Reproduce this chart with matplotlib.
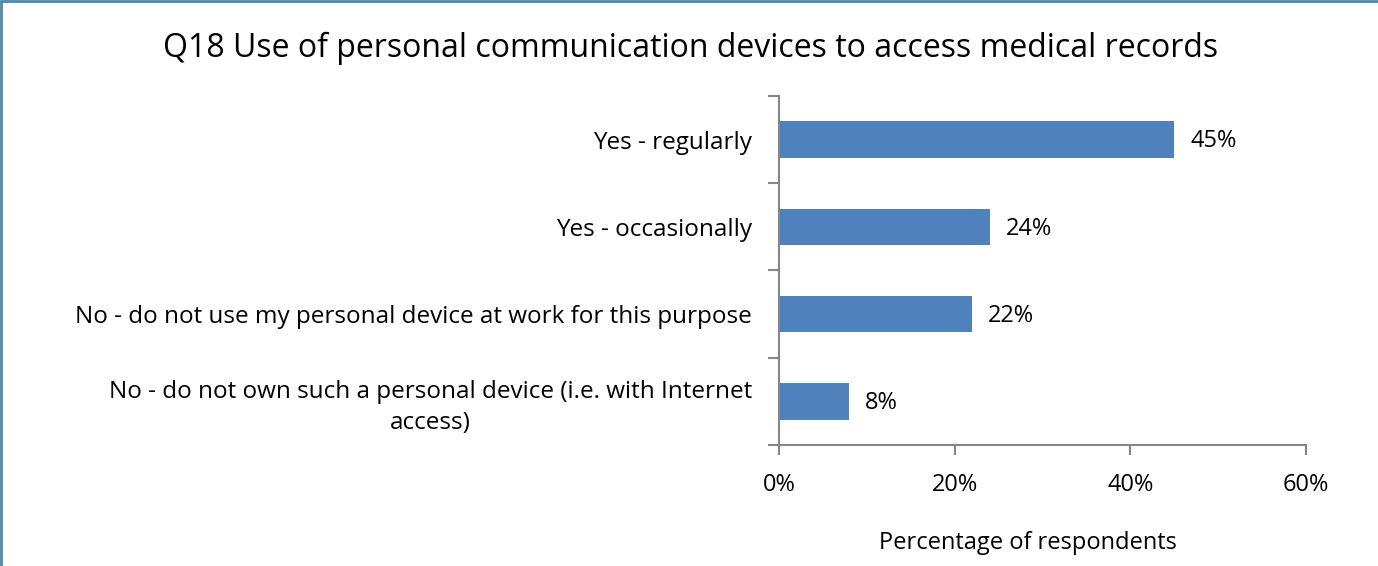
import matplotlib.pyplot as plt
from matplotlib.patches import Rectangle

plt.rcParams['font.family'] = ['Open Sans', 'DejaVu Sans']

categories = [
    "Yes - regularly",
    "Yes - occasionally",
    "No - do not use my personal device at work for this purpose",
    "No - do not own such a personal device (i.e. with Internet\naccess)",
]
percent = [45, 24, 22, 8]
x_ticks = [0, 20, 40, 60]

fig = plt.figure(figsize=(13.78, 5.66), dpi=100)
ax = fig.add_axes([0.5653, 0.2138, 0.3825, 0.6166])

# outer frame around the chart area
fig.patches.append(Rectangle((0.001, -0.01), 1.2, 1.0075, transform=fig.transFigure,
                             fill=False, edgecolor='#4a89ad', linewidth=2))

pos = list(range(len(categories)))
bars = ax.barh(pos, percent, height=0.42, color='#4f81bd')
for p, v in zip(pos, percent):
    ax.text(v + 1.8, p + 0.02, f"{v}%", va='center', ha='left', fontsize=17)

ax.set_ylim(len(categories) - 0.5, -0.5)
ax.set_xlim(0, 60)
ax.set_xticks(x_ticks)
ax.set_xticklabels([f"{t}%" for t in x_ticks], fontsize=17)

# ticks on the category boundaries, labels in the middle
ax.set_yticks([i - 0.5 for i in range(len(categories) + 1)])
ax.set_yticklabels([])
ax.set_yticks(pos, minor=True)
ax.set_yticklabels(categories, minor=True, fontsize=17.5, multialignment='center',
                   linespacing=1.35)
ax.tick_params(axis='y', which='minor', length=0, pad=19.5)
ax.tick_params(axis='y', which='major', length=8, width=1.5, color='#868686')
ax.tick_params(axis='x', length=7, width=1.5, color='#868686', pad=13)

for s in ['top', 'right']:
    ax.spines[s].set_visible(False)
for s in ['left', 'bottom']:
    ax.spines[s].set_color('#868686')
    ax.spines[s].set_linewidth(1.5)

fig.text(0.501, 0.915, "Q18 Use of personal communication devices to access medical records",
         ha='center', va='center', fontsize=23)
fig.text(0.746, 0.04, "Percentage of respondents", ha='center', va='center', fontsize=17)

fig.savefig('out.png', dpi=100)
